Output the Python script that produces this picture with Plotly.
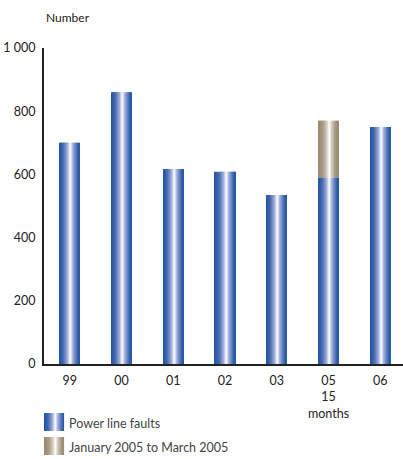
import plotly.graph_objects as go
from plotly.colors import sample_colorscale

# Data
years = ["99", "00", "01", "02", "03", "05<br>15<br>months", "06"]
power_line_faults = [700, 860, 617, 608, 535, 590, 750]
jan_to_mar_2005 = [None, None, None, None, None, 180, None]
y_ticks = [0, 200, 400, 600, 800, 1000]
y_tick_text = ["0", "200", "400", "600", "800", "1 000"]

W, H = 403, 459
ML, MR, MT, MB = 44, 0, 48, 95
PW, PH = W - ML - MR, H - MT - MB

BLUE_SCALE = [[0, "#1b55a1"], [0.2, "#4467ae"], [0.42, "#9cacd8"], [0.56, "#ffffff"],
              [0.68, "#a9b6de"], [0.84, "#5e79bd"], [1, "#1b55a1"]]
BEIGE_SCALE = [[0, "#978770"], [0.25, "#a99b86"], [0.45, "#d6cec2"], [0.56, "#ffffff"],
               [0.7, "#cfc6b8"], [0.86, "#a89a84"], [1, "#978770"]]

N = 20            # vertical slices per bar, to build the gradient
BAR_W = 0.39      # bar width in category units
x_idx = list(range(len(years)))

fig = go.Figure()


def gradient_bars(values, base, scale):
    cols = sample_colorscale(scale, [(k + 0.5) / N for k in range(N)])
    step = BAR_W / N
    for k, c in enumerate(cols):
        fig.add_trace(go.Bar(
            x=x_idx, y=values, base=base,
            width=step * (1.08 if k < N - 1 else 1.0),
            offset=-BAR_W / 2 + k * step,
            marker=dict(color=c, line=dict(width=0)),
            showlegend=False, hoverinfo="skip",
        ))


gradient_bars(power_line_faults, None, BLUE_SCALE)
gradient_bars(jan_to_mar_2005, power_line_faults, BEIGE_SCALE)


def px_x(p):
    return (p - ML) / PW


def px_y(p):
    return (MT + PH - p) / PH


shapes = []


def swatch(x0, y0, x1, y1, scale):
    cols = sample_colorscale(scale, [(k + 0.5) / N for k in range(N)])
    step = (x1 - x0) / N
    for k, c in enumerate(cols):
        shapes.append(dict(type="rect", xref="paper", yref="paper",
                           x0=px_x(x0 + k * step), x1=px_x(x0 + (k + 1.08) * step),
                           y0=px_y(y1), y1=px_y(y0),
                           fillcolor=c, line=dict(width=0), layer="above"))


swatch(44, 413, 64, 431, BLUE_SCALE)
swatch(44, 437, 64, 455, BEIGE_SCALE)

FONT = "Lato, 'Open Sans', sans-serif"
annotations = [
    dict(text="Number", xref="paper", yref="paper", x=0, y=px_y(18),
         xanchor="left", yanchor="middle", showarrow=False,
         font=dict(size=12, color="#222")),
    dict(text="Power line faults", xref="paper", yref="paper", x=px_x(67), y=px_y(423),
         xanchor="left", yanchor="middle", showarrow=False,
         font=dict(size=12.5, color="#444")),
    dict(text="January 2005 to March 2005", xref="paper", yref="paper", x=px_x(67), y=px_y(447),
         xanchor="left", yanchor="middle", showarrow=False,
         font=dict(size=12.5, color="#444")),
]

fig.update_layout(
    width=W, height=H,
    margin=dict(l=ML, r=MR, t=MT, b=MB, pad=0),
    barmode="overlay",
    paper_bgcolor="white", plot_bgcolor="white",
    font=dict(family=FONT, size=12, color="#222"),
    shapes=shapes, annotations=annotations,
    showlegend=False,
)
fig.update_xaxes(
    range=[-0.5, -0.5 + PW / 51.73], tickmode="array", tickvals=x_idx, ticktext=years,
    showgrid=False, zeroline=False, showline=True, linecolor="#222", linewidth=2,
    ticks="", ticklabelstandoff=4, tickfont=dict(size=12.5, color="#222"),
)
fig.update_yaxes(
    range=[0, 1000], tickmode="array", tickvals=y_ticks, ticktext=y_tick_text,
    showgrid=False, zeroline=False, showline=True, linecolor="#222", linewidth=2,
    ticks="", ticklabelstandoff=4, tickfont=dict(size=12.5, color="#222"),
)

fig.write_html("out.html")
